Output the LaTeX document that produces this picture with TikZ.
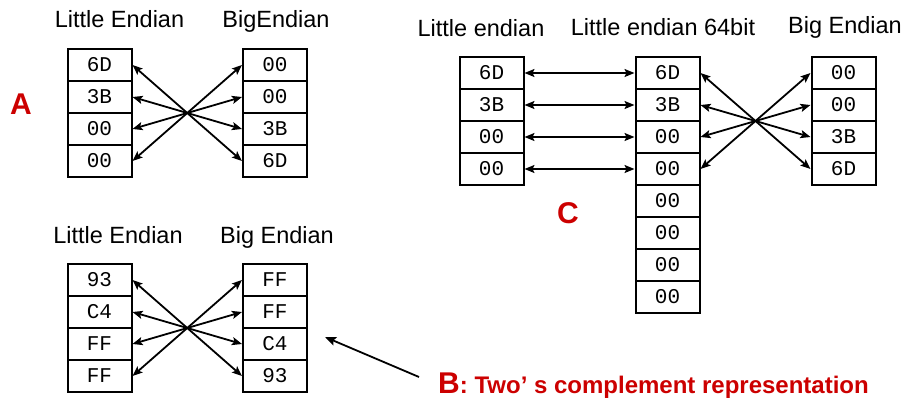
\documentclass[tikz,border=0pt]{standalone}
\usepackage{fontspec}
\setmainfont{Liberation Sans}
\newfontfamily\cellfont{Liberation Mono}
\usetikzlibrary{arrows.meta}
\definecolor{myred}{RGB}{204,0,0}
\tikzset{
  cell/.style={draw, line width=2pt, minimum width=64pt, minimum height=32pt, inner sep=0pt,
    font=\cellfont\fontsize{21}{22}\selectfont},
  title/.style={anchor=base, inner sep=0pt, font=\fontsize{23.5}{25}\selectfont},
  big/.style={text=myred, inner sep=0pt, font=\bfseries\fontsize{30}{32}\selectfont},
  dbl/.style={line width=1.8pt, {Stealth[length=10pt,width=8pt,inset=2pt]}-{Stealth[length=10pt,width=8pt,inset=2pt]}},
  sgl/.style={line width=1.8pt, -{Stealth[length=11pt,width=9pt,inset=2pt]}}
}
\begin{document}
\begin{tikzpicture}[x=1pt,y=-1pt]
\useasboundingbox (0,0) rectangle (906,400);
% ---------- A ----------
\node[title] (tAL) at (119.5,27) {Little Endian};
\node[title] (tAR) at (276,27) {BigEndian};
\node[big] (lA) at (21,104) {A};
\node[cell] (a1) at (99.5,65) {6D};
\node[cell] (a2) at (99.5,97) {3B};
\node[cell] (a3) at (99.5,129) {00};
\node[cell] (a4) at (99.5,161) {00};
\node[cell] (b1) at (275,65) {00};
\node[cell] (b2) at (275,97) {00};
\node[cell] (b3) at (275,129) {3B};
\node[cell] (b4) at (275,161) {6D};
\draw[dbl] (a1.east) -- (b4.west);
\draw[dbl] (a2.east) -- (b3.west);
\draw[dbl] (a3.east) -- (b2.west);
\draw[dbl] (a4.east) -- (b1.west);
% ---------- B ----------
\node[title] (tBL) at (118,243) {Little Endian};
\node[title] (tBR) at (277,243) {Big Endian};
\node[cell] (c1) at (99.5,280) {93};
\node[cell] (c2) at (99.5,312) {C4};
\node[cell] (c3) at (99.5,344) {FF};
\node[cell] (c4) at (99.5,376) {FF};
\node[cell] (d1) at (275,280) {FF};
\node[cell] (d2) at (275,312) {FF};
\node[cell] (d3) at (275,344) {C4};
\node[cell] (d4) at (275,376) {93};
\draw[dbl] (c1.east) -- (d4.west);
\draw[dbl] (c2.east) -- (d3.west);
\draw[dbl] (c3.east) -- (d2.west);
\draw[dbl] (c4.east) -- (d1.west);
\node[anchor=base west, inner sep=0pt, text=myred, font=\bfseries] (lB) at (438,393)
  {{\fontsize{30}{30}\selectfont B}{\fontsize{24}{24}\selectfont : Two’ s complement representation}};
\coordinate (bt) at (419,377);
\coordinate (bh) at (325,337);
\draw[sgl] (bt) -- (bh);
% ---------- C ----------
\node[title] (tCL) at (481,36) {Little endian};
\node[title] (tCM) at (663,35) {Little endian 64bit};
\node[title] (tCR) at (845,33) {Big Endian};
\node[big] (lC) at (568,213) {C};
\node[cell] (e1) at (491.5,73) {6D};
\node[cell] (e2) at (491.5,105) {3B};
\node[cell] (e3) at (491.5,137) {00};
\node[cell] (e4) at (491.5,169) {00};
\node[cell] (f1) at (667.5,73) {6D};
\node[cell] (f2) at (667.5,105) {3B};
\node[cell] (f3) at (667.5,137) {00};
\node[cell] (f4) at (667.5,169) {00};
\node[cell] (f5) at (667.5,201) {00};
\node[cell] (f6) at (667.5,233) {00};
\node[cell] (f7) at (667.5,265) {00};
\node[cell] (f8) at (667.5,297) {00};
\node[cell] (g1) at (843.5,73) {00};
\node[cell] (g2) at (843.5,105) {00};
\node[cell] (g3) at (843.5,137) {3B};
\node[cell] (g4) at (843.5,169) {6D};
\draw[dbl] (e1.east) -- (f1.west);
\draw[dbl] (e2.east) -- (f2.west);
\draw[dbl] (e3.east) -- (f3.west);
\draw[dbl] (e4.east) -- (f4.west);
\draw[dbl] (f1.east) -- (g4.west);
\draw[dbl] (f2.east) -- (g3.west);
\draw[dbl] (f3.east) -- (g2.west);
\draw[dbl] (f4.east) -- (g1.west);
\end{tikzpicture}
\end{document}
